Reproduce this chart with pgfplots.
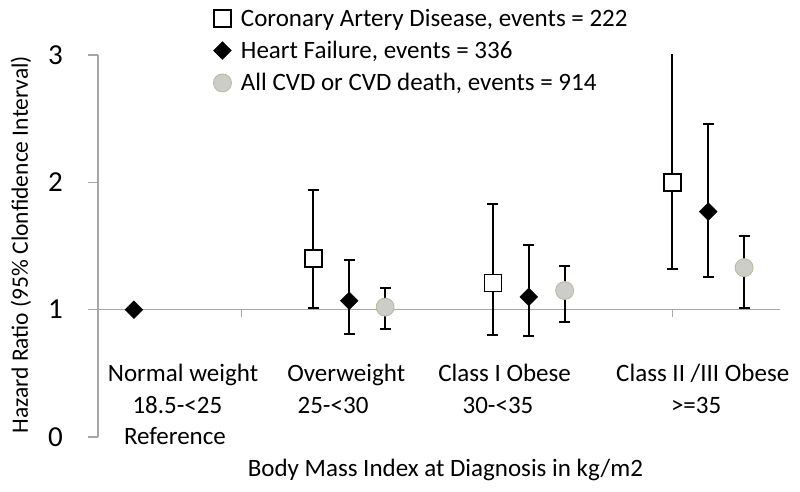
\documentclass[border=0pt]{standalone}
\usepackage{pgfplots}
\pgfplotsset{compat=1.18}
\usepackage{fontspec}
\setmainfont{Carlito}
\definecolor{axgray}{RGB}{166,166,166}
\definecolor{cvdfill}{RGB}{204,204,200}
\definecolor{cvdedge}{RGB}{185,185,150}
\newcommand{\catfont}{\fontsize{25}{30}\selectfont}
\begin{document}
\begin{tikzpicture}
% reference line at HR = 1 with category ticks
\begin{axis}[name=bg, width=682pt, height=382pt, scale only axis,
  xmin=0, xmax=4.75, ymin=-1, ymax=2,
  axis x line=middle, axis y line=none,
  x axis line style={-, axgray, line width=1.5pt},
  xtick={1,2,3,4}, xticklabels={},
  x tick style={axgray, line width=1.2pt},
  xtick align=outside, major tick length=7pt]
\addplot[draw=none, forget plot] coordinates {(0,0) (4.75,0)};
\end{axis}
\begin{axis}[width=682pt, height=382pt, scale only axis,
  xmin=0, xmax=4.75, ymin=0, ymax=3,
  axis x line=none, axis y line=left,
  y axis line style={-, axgray, line width=1.5pt},
  ytick={0,1,2,3}, xtick=\empty,
  y tick style={axgray, line width=1.2pt},
  ytick align=outside, major tick length=10pt,
  /pgf/number format/assume math mode=true,
  yticklabel style={font=\fontsize{29}{34}\selectfont, inner sep=0pt, xshift=-25pt},
  ylabel={Hazard Ratio (95\% Clonfidence Interval)},
  ylabel style={font=\fontsize{23.5}{28}\selectfont, at={(axis description cs:-0.113,0.503)}, anchor=center},
  legend style={at={(axis description cs:0.169,1.125)}, anchor=north west,
    draw=none, fill=none, font=\catfont, row sep=10.5pt, inner sep=0pt,
    nodes={inner sep=1.5pt},
    /tikz/every odd column/.append style={column sep=8pt}},
  legend cell align=left,
  error bars/error bar style={black, line width=1.9pt},
  error bars/error mark options={black, line width=1.9pt, mark size=5.5pt, rotate=90},
]
\addplot[only marks, mark=square*, mark size=8.5pt,
  mark options={fill=white, draw=black, line width=1.5pt},
  error bars/.cd, y dir=both, y explicit]
  coordinates {
  (1.5,1.40) += (0,0.54) -= (0,0.39)
  (2.75,1.21) += (0,0.62) -= (0,0.41)
  (4.0,2.00) += (0,1.10) -= (0,0.68)
  };
\addlegendentry{Coronary Artery Disease, events = 222}
\addplot[only marks, mark=square*, mark size=6.3pt,
  mark options={fill=black, draw=black, rotate=45},
  error bars/.cd, y dir=both, y explicit]
  coordinates {
  (0.25,1.00) += (0,0) -= (0,0)
  (1.75,1.07) += (0,0.32) -= (0,0.26)
  (3.0,1.10) += (0,0.41) -= (0,0.31)
  (4.25,1.77) += (0,0.69) -= (0,0.51)
  };
\addlegendentry{Heart Failure, events = 336}
\addplot[only marks, mark=*, mark size=9pt,
  mark options={fill=cvdfill, draw=cvdedge, line width=0.8pt},
  error bars/.cd, y dir=both, y explicit]
  coordinates {
  (2.0,1.02) += (0,0.15) -= (0,0.175)
  (3.25,1.15) += (0,0.195) -= (0,0.245)
  (4.5,1.33) += (0,0.25) -= (0,0.315)
  };
\addlegendentry{All CVD or CVD death, events = 914}
\coordinate (a1) at (axis cs:0.592,0.434);
\coordinate (a2) at (axis cs:0.553,0.186);
\coordinate (a3) at (axis cs:0.536,-0.055);
\coordinate (b1) at (axis cs:1.729,0.434);
\coordinate (b2) at (axis cs:1.637,0.186);
\coordinate (c1) at (axis cs:2.832,0.434);
\coordinate (c2) at (axis cs:2.786,0.186);
\coordinate (d1) at (axis cs:4.212,0.434);
\coordinate (d2) at (axis cs:4.166,0.186);
\coordinate (xl) at (axis cs:2.42,-0.312);
\end{axis}
\node[anchor=base, font=\catfont] at (a1) {Normal weight};
\node[anchor=base, font=\catfont] at (a2) {18.5-<25};
\node[anchor=base, font=\catfont] at (a3) {Reference};
\node[anchor=base, font=\catfont] at (b1) {Overweight};
\node[anchor=base, font=\catfont] at (b2) {25-<30};
\node[anchor=base, font=\catfont] at (c1) {Class I Obese};
\node[anchor=base, font=\catfont] at (c2) {30-<35};
\node[anchor=base, font=\catfont] at (d1) {Class II /III Obese};
\node[anchor=base, font=\catfont] at (d2) {>=35};
\node[anchor=base, font=\catfont] at (xl) {Body Mass Index at Diagnosis in kg/m2};
\pgfresetboundingbox
\path ([xshift=-98pt,yshift=-55pt]bg.south west) rectangle ([xshift=20pt,yshift=55pt]bg.north east);
\end{tikzpicture}
\end{document}
